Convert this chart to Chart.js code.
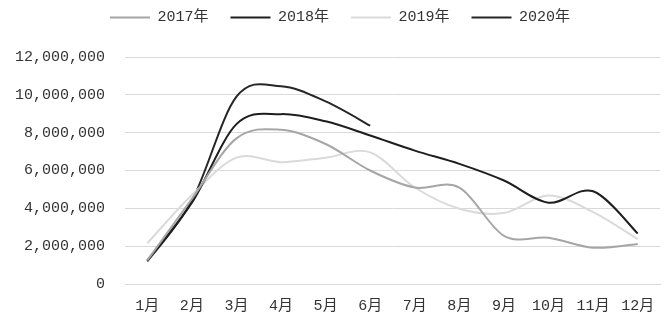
<!DOCTYPE html>
<html>
<head>
<meta charset="utf-8">
<script src="https://cdn.jsdelivr.net/npm/chart.js@4"></script>
<style>
  html, body { margin: 0; padding: 0; background: #fff; }
  #wrap { width: 670px; height: 325px; position: relative; }
</style>
</head>
<body>
<div id="wrap"><canvas id="monthly"></canvas></div>
<script>
const months = ['1月', '2月', '3月', '4月', '5月', '6月', '7月', '8月', '9月', '10月', '11月', '12月'];
const years = ['2017年', '2018年', '2019年', '2020年'];
const v2017 = [1250000, 4500000, 7700000, 8150000, 7400000, 6000000, 5100000, 5100000, 2550000, 2450000, 1920000, 2120000];
const v2018 = [1250000, 4300000, 8450000, 8980000, 8600000, 7850000, 7050000, 6350000, 5470000, 4300000, 4900000, 2670000];
const v2019 = [2150000, 4700000, 6680000, 6440000, 6680000, 6960000, 5100000, 3980000, 3750000, 4680000, 3800000, 2370000];
const v2020 = [1200000, 4400000, 9900000, 10450000, 9650000, 8370000, null, null, null, null, null, null];
const yTicks = [0, 2000000, 4000000, 6000000, 8000000, 10000000, 12000000];

const colors = ['#a6a6a6', '#1e1e1e', '#dadada', '#262626'];
const font = { family: '"Liberation Mono", "Noto Sans CJK SC", monospace', size: 15 };

const series = [v2017, v2018, v2019, v2020].map((data, i) => ({
    label: years[i],
    data: data,
    borderColor: colors[i],
    backgroundColor: colors[i],
    borderWidth: 2,
    pointRadius: 0,
    tension: 0.4,
    fill: false,
    spanGaps: false
}));

// extra room under the legend, and nudge it a little to the right
const legendBox = {
    id: 'legendBox',
    beforeLayout(chart) {
        const legend = chart.legend;
        if (!legend || legend._extraSpace) return;
        const fit = legend.fit;
        legend.fit = function () { fit.call(this); this.height += 22; };
        legend._extraSpace = true;
    },
    afterLayout(chart) {
        chart.legend.left += 10;
        chart.legend.right += 10;
    }
};

// uniform catmull-rom style control points (spreadsheet-like smoothing)
const smoothLines = {
    id: 'smoothLines',
    beforeDatasetDraw(chart, args) {
        const meta = args.meta;
        const line = meta.dataset;
        if (line.updateControlPoints) line.updateControlPoints(chart.chartArea, meta.iScale.axis);
        const pts = meta.data.filter(p => !p.skip);
        pts.forEach((p, i) => {
            const a = pts[Math.max(i - 1, 0)];
            const b = pts[Math.min(i + 1, pts.length - 1)];
            const dx = (b.x - a.x) / 6;
            const dy = (b.y - a.y) / 6;
            p.cp1x = p.x - dx; p.cp1y = p.y - dy;
            p.cp2x = p.x + dx; p.cp2y = p.y + dy;
        });
        line._pointsUpdated = true;
        line._path = undefined;
    }
};

new Chart(document.getElementById('monthly'), {
    type: 'line',
    data: { labels: months, datasets: series },
    plugins: [legendBox, smoothLines],
    options: {
        responsive: true,
        maintainAspectRatio: false,
        animation: false,
        layout: { padding: { top: -12, left: 0, right: 10, bottom: 0 } },
        plugins: {
            legend: {
                position: 'top',
                labels: {
                    usePointStyle: true,
                    pointStyle: 'line',
                    pointStyleWidth: 40,
                    padding: 22,
                    color: '#333',
                    font: font
                }
            },
            tooltip: { enabled: false }
        },
        scales: {
            x: {
                offset: true,
                grid: { display: false, drawTicks: false },
                border: { display: true, color: '#d9d9d9', width: 1 },
                ticks: { color: '#333', font: font, padding: 13, maxRotation: 0, autoSkip: false },
                afterFit: (scale) => { scale.height = 41; }
            },
            y: {
                min: 0,
                max: 12000000,
                afterBuildTicks: (scale) => { scale.ticks = yTicks.map(v => ({ value: v })); },
                grid: { color: '#d9d9d9', lineWidth: 1, drawTicks: false },
                border: { display: false },
                ticks: {
                    color: '#333',
                    font: font,
                    padding: 20,
                    callback: (v) => v.toLocaleString('en-US')
                },
                afterFit: (scale) => { scale.width = 125; }
            }
        }
    }
});
</script>
</body>
</html>
